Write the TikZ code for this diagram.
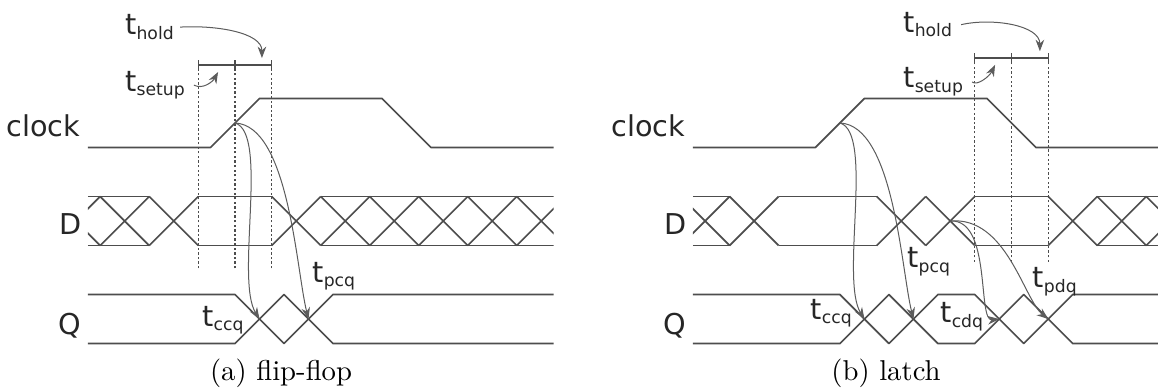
\documentclass[tikz,border=0pt]{standalone}
\usepackage{fontspec}
\newfontfamily\sigfont{DejaVu Sans}
\usetikzlibrary{arrows.meta}
\definecolor{wavecol}{HTML}{4D4D4D}
\definecolor{arrcol}{HTML}{5C5C5C}
\newcommand{\tlab}[1]{t\raisebox{-1.6pt}{\fontsize{6}{7}\selectfont #1}}
\tikzset{
  wave/.style={draw=wavecol, line width=0.6pt, line join=round},
  guide/.style={draw=wavecol, dash pattern=on 0.8pt off 0.8pt, line width=0.5pt},
  delay/.style={draw=arrcol, line width=0.35pt, -{Stealth[length=4pt,width=3pt]}},
  lbl/.style={font=\sigfont\fontsize{10}{12}\selectfont, text=black!85, inner sep=0pt},
}
\begin{document}
\begin{tikzpicture}[x=0.3cm,y=0.3cm]
  \useasboundingbox (-3.59,-1.9) rectangle (43.67,14.02);
  % (a) flip-flop
  \begin{scope}
    \node[lbl, anchor=base east] (clockA) at (-0.3,8.43) {clock};
    \node[lbl, anchor=base east] (dA) at (-0.25,4.43) {D};
    \node[lbl, anchor=base east] (qA) at (-0.25,0.35) {Q};
    \draw[wave] (0,8) -- (5,8) -- (7,10) -- (12,10) -- (14,8) -- (19,8);
    \begin{scope}
      \clip (0,3) rectangle (19,7);
      \foreach \a/\b in {0/2.5,4.5/7.5,9.5/19}
        \draw[wave] (\a,6) -- (\b,6) (\a,4) -- (\b,4);
      \foreach \c in {-0.5,1.5,3.5,8.5,10.5,12.5,14.5,16.5,18.5}
        \draw[wave] ({\c-1},6) -- ({\c+1},4) ({\c-1},4) -- ({\c+1},6);
    \end{scope}
    \draw[wave] (0,2) -- (6,2) -- (8,0) -- (10,2) -- (19,2);
    \draw[wave] (0,0) -- (6,0) -- (8,2) -- (10,0) -- (19,0);
    \foreach \x in {4.5,6,7.5} {
      \draw[guide] (\x,3.07) -- (\x,11.57);
      \draw[wave, line width=0.5pt] (\x,11.17) -- (\x,11.57);
    }
    \draw[wave, line width=0.5pt] (4.5,11.37) -- (7.5,11.37);
    \coordinate (clkA) at (6,9);
    \coordinate (qA1) at (7,1);
    \coordinate (qA2) at (9,1);
    \coordinate (holdA) at (7.1,11.65);
    \coordinate (setupA) at (5.31,11.08);
    \node[lbl, anchor=base west] (tholdA) at (1.5,12.6) {\tlab{hold}};
    \node[lbl, anchor=base west] (tsetupA) at (1.5,10.3) {\tlab{setup}};
    \node[lbl, anchor=base west] (tccqA) at (4.65,0.7) {\tlab{ccq}};
    \node[lbl, anchor=base west] (tpcqA) at (9.14,2.5) {\tlab{pcq}};
    \draw[delay] ([xshift=2pt]tholdA.east) .. controls (5.2,13.0) and (7.1,12.7) .. (holdA);
    \draw[delay] ([xshift=3pt]tsetupA.east) .. controls (4.7,10.35) and (5.1,10.7) .. (setupA);
    \draw[delay] (clkA) .. controls (7.4,8.6) and (6.0,2.6) .. (qA1);
    \draw[delay] (clkA) .. controls (8.2,8.9) and (8.5,3) .. (qA2);
    \node[anchor=base] (capA) at (7.88,-1.49) {(a) flip-flop};
  \end{scope}
  % (b) latch
  \begin{scope}[shift={(24.69,0)}]
    \node[lbl, anchor=base east] (clockB) at (-0.3,8.43) {clock};
    \node[lbl, anchor=base east] (dB) at (-0.25,4.43) {D};
    \node[lbl, anchor=base east] (qB) at (-0.25,0.35) {Q};
    \draw[wave] (0,8) -- (5,8) -- (7,10) -- (12,10) -- (14,8) -- (19,8);
    \begin{scope}
      \clip (0,3) rectangle (19,7);
      \foreach \a/\b in {0/1.5,3.5/7.5,11.5/14.5,16.5/19}
        \draw[wave] (\a,6) -- (\b,6) (\a,4) -- (\b,4);
      \foreach \c in {0.5,2.5,8.5,10.5,15.5,17.5,19.5}
        \draw[wave] ({\c-1},6) -- ({\c+1},4) ({\c-1},4) -- ({\c+1},6);
    \end{scope}
    \draw[wave] (0,2) -- (6,2) -- (8,0) -- (10,2) -- (11.5,2) -- (13.5,0) -- (15.5,2) -- (19,2);
    \draw[wave] (0,0) -- (6,0) -- (8,2) -- (10,0) -- (11.5,0) -- (13.5,2) -- (15.5,0) -- (19,0);
    \foreach \x in {11.5,13,14.5} {
      \draw[guide] (\x,3.33) -- (\x,11.85);
      \draw[wave, line width=0.5pt] (\x,11.45) -- (\x,11.85);
    }
    \draw[wave, line width=0.5pt] (11.5,11.65) -- (14.5,11.65);
    \coordinate (clkB) at (6,9);
    \coordinate (dB1) at (10.5,5);
    \coordinate (qB1) at (7,1);
    \coordinate (qB2) at (9,1);
    \coordinate (qB3) at (12.5,1);
    \coordinate (qB4) at (14.5,1);
    \coordinate (holdB) at (14.16,11.93);
    \coordinate (setupB) at (12.33,11.37);
    \node[lbl, anchor=base west] (tholdB) at (8.57,12.7) {\tlab{hold}};
    \node[lbl, anchor=base west] (tsetupB) at (8.57,10.43) {\tlab{setup}};
    \node[lbl, anchor=base west] (tccqB) at (4.78,1.0) {\tlab{ccq}};
    \node[lbl, anchor=base west] (tpcqB) at (8.73,3.1) {\tlab{pcq}};
    \node[lbl, anchor=base west] (tcdqB) at (10.08,0.86) {\tlab{cdq}};
    \node[lbl, anchor=base west] (tpdqB) at (13.84,2.27) {\tlab{pdq}};
    \draw[delay] ([xshift=3pt]tholdB.east) .. controls (12.2,13.3) and (14.16,13.0) .. (holdB);
    \draw[delay] ([xshift=3pt]tsetupB.east) .. controls (11.6,10.5) and (12.1,10.9) .. (setupB);
    \draw[delay] (clkB) .. controls (7.4,8.6) and (6.0,2.6) .. (qB1);
    \draw[delay] (clkB) .. controls (8.2,8.9) and (8.5,3) .. (qB2);
    \draw[delay] (dB1) .. controls (12.2,5.1) and (11.6,0.9) .. (qB3);
    \draw[delay] (dB1) .. controls (12.8,5.2) and (13.5,1.8) .. (qB4);
    \node[anchor=base] (capB) at (7.88,-1.49) {(b) latch};
  \end{scope}
\end{tikzpicture}
\end{document}
